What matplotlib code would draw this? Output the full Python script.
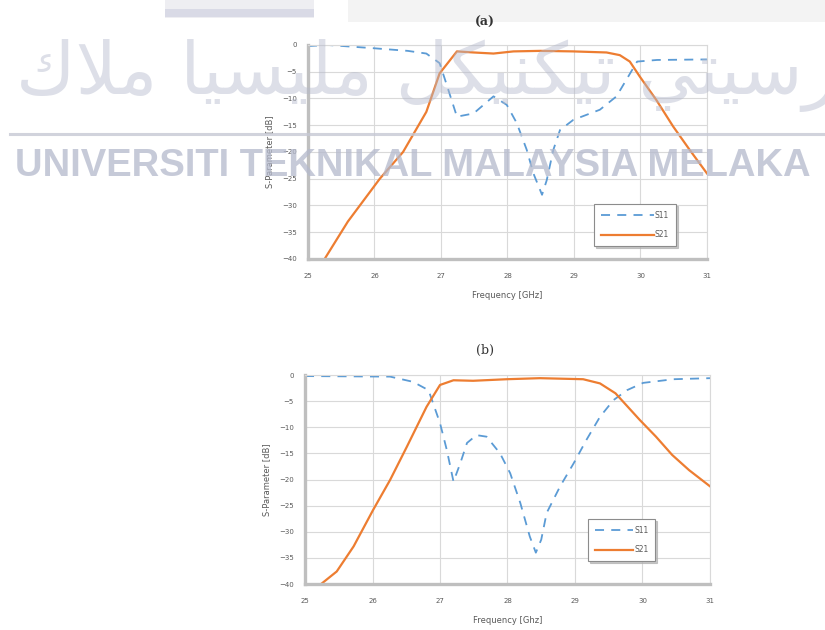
import matplotlib
matplotlib.use("Agg")
import matplotlib.pyplot as plt
from matplotlib.patches import Rectangle
from matplotlib.lines import Line2D

# (a) simulated response
freq_a_s11 = [25.0, 25.3, 25.98, 26.5, 26.78, 26.98, 27.08, 27.24, 27.49, 27.79, 27.99,
              28.14, 28.29, 28.39, 28.52, 28.59, 28.69, 28.79, 28.99, 29.39, 29.64,
              29.95, 30.25, 31.0]
s11_a = [-0.2, 0.0, -0.6, -1.1, -1.6, -3.4, -7.2, -13.4, -12.8, -9.6, -11.2,
         -14.6, -19.6, -24.0, -28.0, -25.3, -19.6, -15.9, -14.0, -12.1, -9.6,
         -3.1, -2.8, -2.7]
freq_a_s21 = [25.25, 25.6, 26.08, 26.43, 26.78, 26.98, 27.24, 27.49, 27.79, 28.09,
              28.49, 28.99, 29.49, 29.69, 29.84, 29.99, 30.24, 30.49, 30.74, 31.0]
s21_a = [-40.0, -33.0, -25.0, -20.0, -12.5, -5.3, -1.2, -1.4, -1.6, -1.2,
         -1.1, -1.2, -1.4, -1.9, -3.1, -5.9, -10.3, -15.2, -19.6, -24.0]

# (b) measured response
freq_b_s11 = [25.0, 26.26, 26.6, 26.83, 27.0, 27.1, 27.2, 27.3, 27.4, 27.54, 27.69,
              27.89, 28.04, 28.19, 28.33, 28.42, 28.5, 28.58, 28.78, 28.98, 29.17,
              29.37, 29.57, 29.77, 30.01, 30.46, 31.0]
s11_b = [-0.2, -0.3, -1.3, -2.9, -9.2, -14.3, -20.4, -16.9, -13.0, -11.5, -11.8,
         -15.0, -18.8, -24.5, -30.9, -34.0, -31.5, -26.4, -21.3, -16.9, -12.4,
         -8.0, -4.8, -2.9, -1.5, -0.8, -0.6]
freq_b_s21 = [25.2, 25.47, 25.72, 26.01, 26.26, 26.51, 26.8, 27.0, 27.2, 27.49,
              27.99, 28.48, 29.12, 29.37, 29.6, 29.96, 30.2, 30.44, 30.69, 31.0]
s21_b = [-40.4, -37.6, -32.8, -25.8, -20.1, -13.7, -6.1, -1.9, -1.0, -1.1,
         -0.8, -0.6, -0.8, -1.6, -3.5, -8.6, -11.8, -15.3, -18.2, -21.3]

xticks = [25, 26, 27, 28, 29, 30, 31]
yticks = [0, -5, -10, -15, -20, -25, -30, -35, -40]

BLUE = "#5b9bd5"
ORANGE = "#ed7d31"
TXT = "#595959"

fig = plt.figure(figsize=(8.25, 6.3), dpi=100)


def style_axes(ax, xlabel):
    ax.set_xlim(25, 31)
    ax.set_ylim(-40, 0)
    ax.set_xticks(xticks)
    ax.set_yticks(yticks)
    ax.grid(True, color="#d9d9d9", linewidth=0.8)
    ax.set_axisbelow(True)
    for side in ("left", "bottom"):
        ax.spines[side].set_color("#bfbfbf")
        ax.spines[side].set_linewidth(2.4)
    for side in ("top", "right"):
        ax.spines[side].set_color("#d9d9d9")
        ax.spines[side].set_linewidth(0.8)
    ax.tick_params(length=0, labelsize=5, labelcolor=TXT)
    ax.tick_params(axis="x", pad=10)
    ax.tick_params(axis="y", pad=8)
    ax.set_xlabel(xlabel, fontsize=6, color=TXT, labelpad=9)
    ax.set_ylabel("S-Parameter [dB]", fontsize=6, color=TXT, labelpad=6)


def add_legend(ax, anchor, hlen):
    leg = ax.legend(loc="upper right", bbox_to_anchor=anchor, fontsize=5.5,
                    handlelength=hlen, handletextpad=0.1, borderpad=0.9,
                    labelspacing=1.4, fancybox=False,
                    shadow={"color": "#b0b0b0", "alpha": 0.7, "ox": 1.5, "oy": -1.5},
                    edgecolor="#8c8c8c", framealpha=1)
    leg.get_frame().set_linewidth(0.8)
    for t in leg.get_texts():
        t.set_color(TXT)


ax1 = fig.add_axes([0.3733, 0.5889, 0.4836, 0.3397])
ax1.plot(freq_a_s11, s11_a, color=BLUE, linestyle=(0, (5, 4)), linewidth=1.3, label="S11")
ax1.plot(freq_a_s21, s21_a, color=ORANGE, linewidth=1.6, label="S21")
style_axes(ax1, "Frequency [GHz]")
add_legend(ax1, (0.932, 0.276), 7)

ax2 = fig.add_axes([0.3697, 0.0730, 0.4909, 0.3317])
ax2.plot(freq_b_s11, s11_b, color=BLUE, linestyle=(0, (5, 4)), linewidth=1.3, label="S11")
ax2.plot(freq_b_s21, s21_b, color=ORANGE, linewidth=1.6, label="S21")
style_axes(ax2, "Frequency [Ghz]")
add_legend(ax2, (0.874, 0.33), 5)

fig.text(0.588, 0.965, "(a)", ha="center", va="center", fontsize=9,
         family="DejaVu Serif", fontweight="bold", color="#333333")
fig.text(0.588, 0.444, "(b)", ha="center", va="center", fontsize=9,
         family="DejaVu Serif", color="#333333")

# page header strips
fig.patches.append(Rectangle((0.2, 0.971), 0.18, 0.029, transform=fig.transFigure,
                             facecolor="#eeeef2", edgecolor="none"))
fig.patches.append(Rectangle((0.2, 0.973), 0.18, 0.012, transform=fig.transFigure,
                             facecolor="#d9dae6", edgecolor="none"))
fig.patches.append(Rectangle((0.422, 0.965), 0.578, 0.035, transform=fig.transFigure,
                             facecolor="#f3f3f3", edgecolor="none"))

# university watermark
WM = "#b4b9cc"
jawi = ("\uFED9\uFEFC\uFEE3 "
        "\uFE8E\uFEF4\uFEB4\uFEF4\uFEE0\uFEE3 "
        "\uFEDE\uFEDC\uFEF4\uFEE8\uFEDC\uFEF4\uFE97 "
        "\uFEF2\uFE98\uFEF4\uFEB3\uFEAD\uFEEE\uFEF4\uFEE7\uFEED\uFE8D")
fig.text(0.02, 0.88, jawi, ha="left", va="center", fontsize=52,
         family=["DejaVu Sans"], color=WM, alpha=0.45, zorder=10)
fig.add_artist(Line2D([0.012, 1.0], [0.788, 0.788], transform=fig.transFigure,
                      color="#c6c8d4", linewidth=2.2, alpha=0.8, zorder=10))
fig.text(0.5, 0.737, "UNIVERSITI TEKNIKAL MALAYSIA MELAKA", ha="center", va="center",
         fontsize=27.5, family="Liberation Sans",
         fontweight="bold", color=WM, alpha=0.75, zorder=10)

fig.savefig("out.png", dpi=100)
